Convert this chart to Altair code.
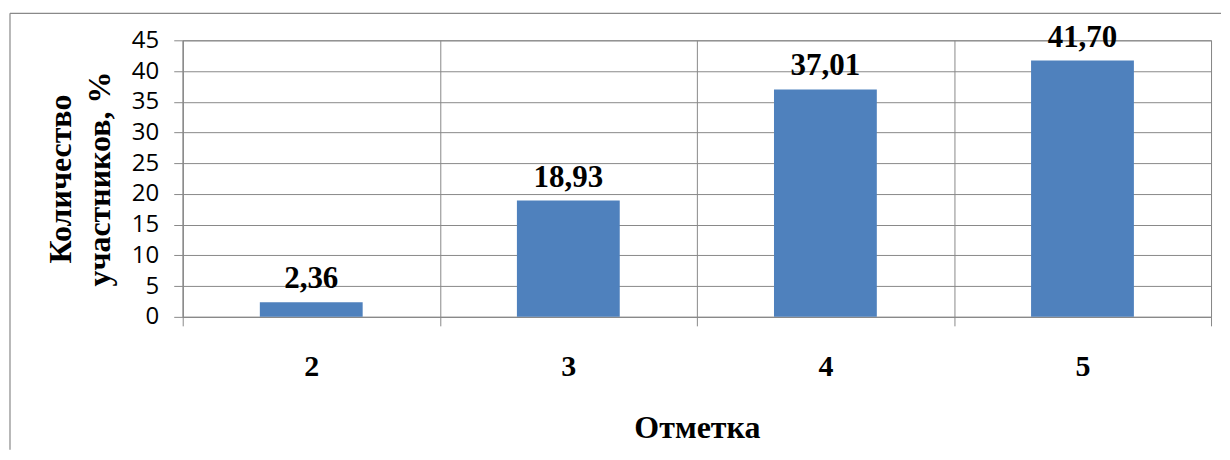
import altair as alt
import pandas as pd

grades = ["2", "3", "4", "5"]
values = [2.36, 18.93, 37.01, 41.70]
y_ticks = [0, 5, 10, 15, 20, 25, 30, 35, 40, 45]

df = pd.DataFrame({"grade": grades, "value": values})

W, H = 1030, 277
SERIF = "Liberation Serif"
GRID = "#898989"

base = alt.Chart(df)

x_enc = alt.X(
    "grade:N",
    sort=grades,
    scale=alt.Scale(paddingInner=0, paddingOuter=0),
    axis=alt.Axis(
        title="Отметка",
        labelAngle=0,
        labelFont=SERIF,
        labelFontSize=30,
        labelFontWeight="bold",
        labelColor="black",
        labelPadding=26,
        titleFont=SERIF,
        titleFontSize=32,
        titleFontWeight="bold",
        titleColor="black",
        titlePadding=31,
        tickBand="extent",
        tickSize=9,
        tickColor=GRID,
        domainColor=GRID,
        grid=True,
        gridColor=GRID,
    ),
)

y_enc = alt.Y(
    "value:Q",
    scale=alt.Scale(domain=[0, 45], nice=False),
    axis=alt.Axis(
        title=["Количество", "участников, %"],
        values=y_ticks,
        labelOverlap=False,
        labelFont="Open Sans",
        labelFontSize=24,
        labelColor="black",
        labelPadding=15,
        tickSize=9,
        tickColor=GRID,
        domainColor=GRID,
        grid=True,
        gridColor=GRID,
        titleFont=SERIF,
        titleFontSize=32,
        titleFontWeight="bold",
        titleColor="black",
        titleLineHeight=39,
        titlePadding=15,
    ),
)

bars = base.mark_bar(color="#4F81BD", width=alt.RelativeBandSize(0.4)).encode(
    x=x_enc, y=y_enc
)

labels = (
    base.transform_calculate(
        lbl="replace(format(datum.value, '.2f'), '.', ',')"
    )
    .mark_text(
        font=SERIF,
        fontSize=31,
        fontWeight="bold",
        color="black",
        baseline="alphabetic",
        dy=-14,
    )
    .encode(x=x_enc, y=y_enc, text="lbl:N")
)

frame_data = alt.Data(values=[{"k": 1}])
frame_left = alt.Chart(frame_data).mark_rule(color=GRID, strokeWidth=1.2).encode(
    x=alt.value(-173), y=alt.value(-27), y2=alt.value(410)
)
frame_top = alt.Chart(frame_data).mark_rule(color=GRID, strokeWidth=1.2).encode(
    x=alt.value(-173), x2=alt.value(1040), y=alt.value(-27)
)

chart = (
    alt.layer(bars, labels, frame_left, frame_top)
    .properties(
        width=W,
        height=H,
        padding={"left": 1, "top": 4, "right": 0, "bottom": 0},
        background="white",
    )
    .configure_view(stroke=GRID, strokeWidth=1)
)

chart.save("out.html", embed_options={"renderer": "svg", "actions": False})
